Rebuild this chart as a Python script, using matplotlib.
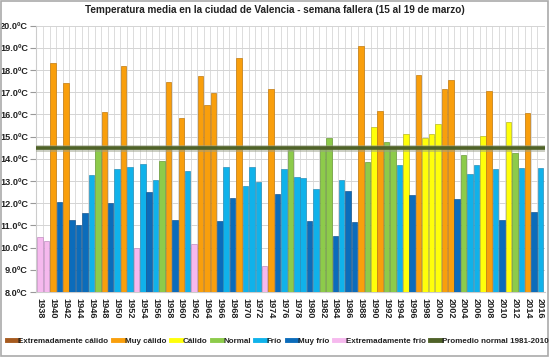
import matplotlib.pyplot as plt
from matplotlib.lines import Line2D
from matplotlib.ticker import MultipleLocator, FuncFormatter
import numpy as np

plt.rcParams['font.family'] = ['Liberation Sans', 'DejaVu Sans']

# Temperatura media semana fallera (15-19 marzo), Valencia
years = list(range(1938, 2017))
temps = [10.5, 10.3, 18.3, 12.05, 17.4, 11.23, 11.02, 11.56, 13.26, 14.54,
         16.12, 12.02, 13.53, 18.2, 13.62, 9.97, 13.77, 12.5, 13.04, 13.89,
         17.46, 11.26, 15.83, 13.44, 10.15, 17.74, 16.42, 16.98, 11.19, 13.64,
         12.23, 18.56, 12.78, 13.64, 12.96, 9.19, 17.14, 12.42, 13.56, 14.39,
         13.19, 13.14, 11.19, 12.62, 14.54, 14.92, 10.51, 13.07, 12.57, 11.14,
         19.08, 13.86, 15.44, 16.15, 14.75, 14.51, 13.74, 15.14, 12.39, 17.77,
         14.96, 15.14, 15.59, 17.13, 17.55, 12.18, 14.18, 13.31, 13.73, 15.02,
         17.07, 13.53, 11.25, 15.64, 14.27, 13.61, 16.06, 11.62, 13.61]
# categoria: EC=extr. calido, MC=muy calido, C=calido, N=normal, F=frio, MF=muy frio, EF=extr. frio
cats = ['EF', 'EF', 'MC', 'MF', 'MC', 'MF', 'MF', 'MF', 'F', 'N',
        'MC', 'MF', 'F', 'MC', 'F', 'EF', 'F', 'MF', 'F', 'N',
        'MC', 'MF', 'MC', 'F', 'EF', 'MC', 'MC', 'MC', 'MF', 'F',
        'MF', 'MC', 'F', 'F', 'F', 'EF', 'MC', 'MF', 'F', 'N',
        'F', 'F', 'MF', 'F', 'N', 'N', 'MF', 'F', 'MF', 'MF',
        'MC', 'N', 'C', 'MC', 'N', 'N', 'F', 'C', 'MF', 'MC',
        'C', 'C', 'C', 'MC', 'MC', 'MF', 'N', 'F', 'F', 'C',
        'MC', 'F', 'MF', 'C', 'N', 'F', 'MC', 'MF', 'F']
normal_avg = 14.48

cat_order = ['EC', 'MC', 'C', 'N', 'F', 'MF', 'EF']
cat_names = {'EC': 'Extremadamente cálido', 'MC': 'Muy cálido', 'C': 'Cálido',
             'N': 'Normal', 'F': 'Frío', 'MF': 'Muy frío', 'EF': 'Extremadamente frío'}
cat_colors = {'EC': '#A65A1E', 'MC': '#F99F0C', 'C': '#FFFF0A', 'N': '#8DCB4A',
              'F': '#10B2EA', 'MF': '#0B6CBB', 'EF': '#F6B9EE'}
cat_edges = {'EC': '#7a4010', 'MC': '#c07a10', 'C': '#b8b820', 'N': '#6a9a38',
             'F': '#2a90b8', 'MF': '#1a5890', 'EF': '#c090c0'}

fig = plt.figure(figsize=(5.5, 3.57), dpi=100)
fig.patch.set_facecolor('white')
ax = fig.add_axes([0.066, 0.182, 0.925, 0.746])

x = np.arange(len(years))
ax.bar(x, [t - 8 for t in temps], bottom=8, width=0.86,
       color=[cat_colors[c] for c in cats],
       edgecolor=[cat_edges[c] for c in cats], linewidth=0.5, zorder=3)

# linea promedio con sombra
ax.axhline(normal_avg, color='#9aa088', lw=5, alpha=0.5, zorder=4)
ax.axhline(normal_avg, color='#4F6228', lw=2.6, zorder=5)

ax.set_ylim(8, 20)
ax.set_xlim(-0.6, len(years) - 0.3)
ax.yaxis.set_major_locator(MultipleLocator(1))
ax.yaxis.set_major_formatter(FuncFormatter(lambda v, p: f'{v:.1f}ºC'))
ax.set_xticks(x[::2])
ax.set_xticklabels([str(y) for y in years[::2]], rotation=-90)
ax.set_xticks(x[:-1] + 0.5, minor=True)
ax.tick_params(axis='x', which='both', length=0, pad=4, labelsize=6.6)
ax.tick_params(axis='y', length=4, pad=2, labelsize=6.6, color='#999999')
for lab in ax.get_xticklabels() + ax.get_yticklabels():
    lab.set_fontweight('bold')
    lab.set_color('#222222')

ax.grid(axis='y', which='major', color='#d4d4d4', lw=0.7, zorder=0)
ax.grid(axis='x', which='minor', color='#dcdcdc', lw=0.7, zorder=0)
for s in ax.spines.values():
    s.set_visible(False)
ax.spines['left'].set_visible(True)
ax.spines['left'].set_color('#cccccc')
ax.spines['bottom'].set_visible(True)
ax.spines['bottom'].set_color('#cccccc')

fig.text(0.5, 0.972, 'Temperatura media en la ciudad de Valencia - semana fallera (15 al 19 de marzo)',
         ha='center', va='center', fontsize=7.2, fontweight='bold', color='#222222')

handles = [Line2D([0], [0], color=cat_colors[k], lw=3.5) for k in cat_order]
labels = [cat_names[k] for k in cat_order]
handles.append(Line2D([0], [0], color='#4F6228', lw=3.5))
labels.append('Promedio normal 1981-2010')
leg = fig.legend(handles, labels, loc='center', bbox_to_anchor=(0.505, 0.045), ncol=8,
                 frameon=False, handlelength=1.3, handletextpad=0.1,
                 columnspacing=0.6, prop={'weight': 'bold', 'size': 5.8})
for t in leg.get_texts():
    t.set_color('#222222')

# marco exterior
fig.add_artist(plt.Rectangle((0.002, 0.003), 0.995, 0.994, transform=fig.transFigure,
                             fill=False, edgecolor='#aaaaaa', lw=1.2))

fig.savefig('out.png', dpi=100)
